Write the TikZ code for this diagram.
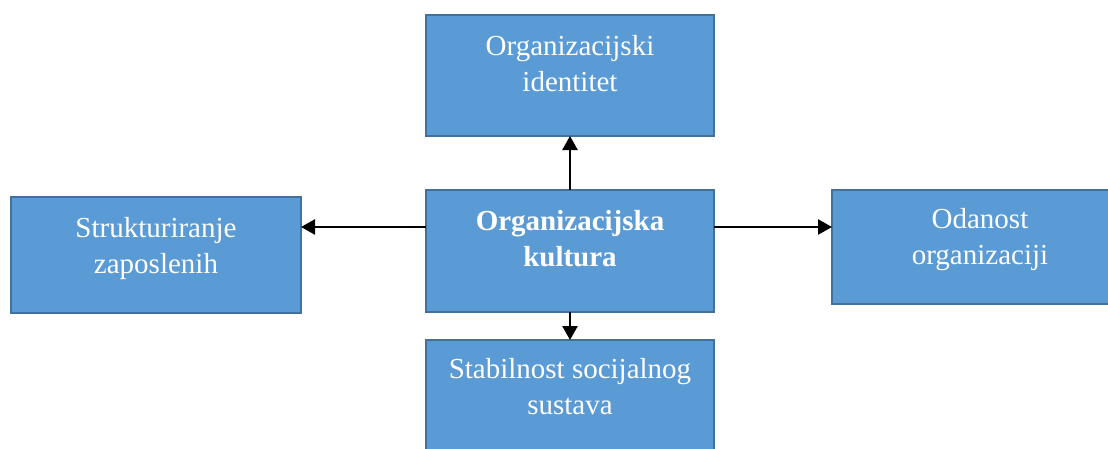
\documentclass[tikz,border=0pt]{standalone}
\usepackage{fontspec}
\setmainfont{Liberation Serif}
\usetikzlibrary{arrows.meta}
\definecolor{boxfill}{HTML}{5B9BD5}
\definecolor{boxline}{HTML}{41719C}
\newcommand{\boxtxt}[4]{\parbox[c][#2pt][t]{#1pt}{\centering\fontsize{29}{36}\selectfont\rule{0pt}{#3pt}#4}}
\tikzset{
  blue box/.style={draw=boxline, fill=boxfill, line width=2pt, inner sep=0pt, outer sep=0pt, text=white},
  conn/.style={line width=2.6pt, -{Triangle[length=14pt,width=15pt]}}
}
\begin{document}
\begin{tikzpicture}[x=1pt,y=-1pt]
\useasboundingbox (0,0) rectangle (1108,448);
\fill[white] (0,0) rectangle (1108,448);
\node[blue box] (top) at (570,75.5) {\boxtxt{288}{121}{40}{Organizacijski\\identitet}};
\node[blue box] (center) at (570,251) {\boxtxt{288}{122}{40}{\bfseries Organizacijska\\kultura}};
\node[blue box] (left) at (156,255) {\boxtxt{290}{116}{40}{Strukturiranje\\zaposlenih}};
\node[blue box] (right) at (980,247) {\boxtxt{296}{114}{38}{Odanost\\organizaciji}};
\node[blue box] (bottom) at (570,400) {\boxtxt{288}{120}{38}{Stabilnost socijalnog\\sustava}};
\draw[conn] (center.north) -- (top.south);
\draw[conn] (center.south) -- (bottom.north);
\draw[conn] ([yshift=24pt]center.west) -- ([yshift=24pt]center.west -| left.east);
\draw[conn] ([yshift=24pt]center.east) -- ([yshift=24pt]center.east -| right.west);
\end{tikzpicture}
\end{document}
